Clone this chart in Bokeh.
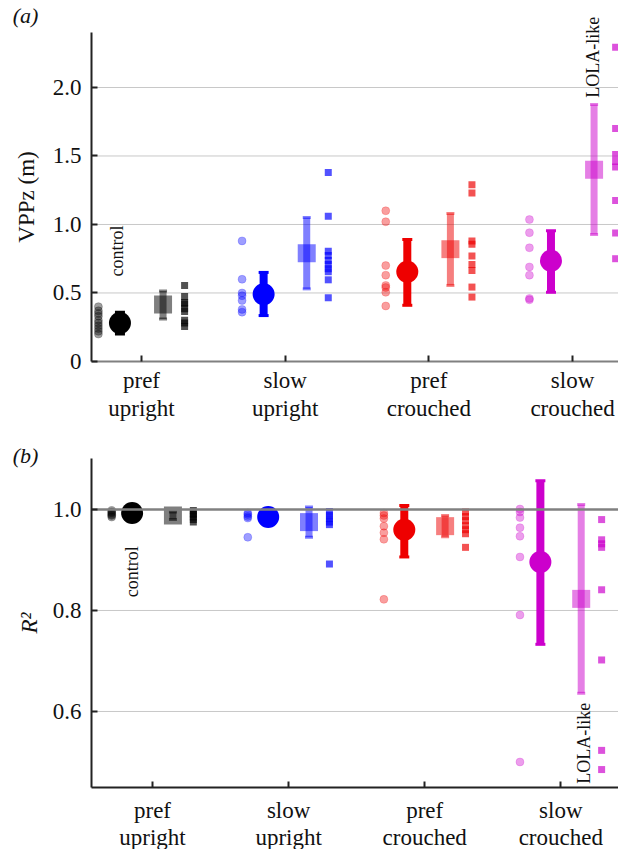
import math
from bokeh.plotting import figure
from bokeh.layouts import column
from bokeh.models import Range1d, FixedTicker, Label
from bokeh.core.properties import value
from bokeh.embed import file_html
from bokeh.resources import INLINE

# ---------------- data ----------------
categories = ["pref\nupright", "slow\nupright", "pref\ncrouched", "slow\ncrouched"]
cat_pos = [1, 2, 3, 4]
colors = ["#000000", "#0000ff", "#ee0000", "#cc00cc"]

# (a) VPPz (m)
vpp_ind_c = [
    [0.20, 0.22, 0.24, 0.26, 0.28, 0.30, 0.33, 0.35, 0.37, 0.40],
    [0.88, 0.60, 0.50, 0.48, 0.445, 0.38, 0.36],
    [1.10, 1.02, 0.70, 0.63, 0.555, 0.54, 0.505, 0.405],
    [1.036, 0.94, 0.83, 0.69, 0.63, 0.46, 0.45],
]
vpp_mean_c = [0.28, 0.49, 0.655, 0.735]
vpp_lo_c = [0.20, 0.335, 0.41, 0.505]
vpp_hi_c = [0.36, 0.65, 0.89, 0.955]
vpp_mean_s = [0.415, 0.79, 0.82, 1.40]
vpp_lo_s = [0.31, 0.53, 0.555, 0.927]
vpp_hi_s = [0.515, 1.05, 1.08, 1.876]
vpp_ind_s = [
    [0.555, 0.475, 0.43, 0.42, 0.385, 0.365, 0.30, 0.28, 0.255],
    [1.38, 1.06, 0.805, 0.774, 0.737, 0.708, 0.677, 0.655, 0.596, 0.465],
    [1.29, 1.23, 0.88, 0.855, 0.77, 0.708, 0.664, 0.543, 0.47],
    [2.294, 1.70, 1.51, 1.46, 1.42, 1.175, 0.937, 0.75],
]
vpp_ticks = [0, 0.5, 1.0, 1.5, 2.0]
vpp_tick_labels = ["0", "0.5", "1.0", "1.5", "2.0"]
vpp_grid = [0.5, 1.0, 1.5, 2.0]

# (b) R^2
r2_ind_c = [
    [0.998, 0.995, 0.993, 0.99, 0.988, 0.985],
    [0.993, 0.99, 0.986, 0.983, 0.945],
    [0.993, 0.988, 0.982, 0.967, 0.954, 0.941, 0.822],
    [1.001, 0.995, 0.984, 0.964, 0.947, 0.906, 0.791, 0.50],
]
r2_mean_c = [0.993, 0.985, 0.960, 0.896]
r2_lo_c = [0.985, 0.975, 0.906, 0.733]
r2_hi_c = [1.0, 0.993, 1.008, 1.057]
r2_mean_s = [0.988, 0.975, 0.967, 0.823]
r2_lo_s = [0.98, 0.945, 0.946, 0.636]
r2_hi_s = [0.995, 1.005, 0.988, 1.01]
r2_ind_s = [
    [0.998, 0.993, 0.99, 0.985, 0.98, 0.975],
    [0.996, 0.988, 0.982, 0.975, 0.970, 0.892],
    [0.995, 0.986, 0.978, 0.968, 0.960, 0.952, 0.925],
    [0.98, 0.94, 0.932, 0.925, 0.841, 0.702, 0.523, 0.485],
]
r2_ticks = [0.6, 0.8, 1.0]
r2_tick_labels = ["0.6", "0.8", "1.0"]
r2_grid = [0.6, 0.8]
r2_ref = [1.0]

SERIF = "'Liberation Serif', 'Times New Roman', Times, serif"
OFF_IND_C, OFF_MEAN_C, OFF_MEAN_S, OFF_IND_S = -0.3, -0.15, 0.15, 0.3
WIDTH = 618


def make_panel(ind_c, mean_c, lo_c, hi_c, mean_s, lo_s, hi_s, ind_s,
               xr, yr, x_axis_at, y_axis_at, y_top, yticks, ylabels, grid_vals,
               ylabel, label_italic, label_standoff, height, xaxis_color, cat_centers):
    p = figure(width=WIDTH, height=height, output_backend="svg", toolbar_location=None,
               x_range=Range1d(*xr), y_range=Range1d(*yr),
               min_border_left=0, min_border_right=0,
               min_border_top=0, min_border_bottom=0)
    p.outline_line_color = None
    p.background_fill_color = "white"
    p.border_fill_color = "white"
    p.xgrid.visible = False
    p.ygrid.visible = False
    ppu_x = WIDTH / (xr[1] - xr[0])
    ppu_y = height / (yr[1] - yr[0])

    # horizontal grid lines, from the y axis to the right edge
    n = len(grid_vals)
    p.segment([x_axis_at] * n, grid_vals, [xr[1]] * n, grid_vals,
              line_color="#c8c8c8", line_width=1)

    p.yaxis.fixed_location = x_axis_at
    p.xaxis.fixed_location = y_axis_at
    p.yaxis.bounds = (y_axis_at, y_top)
    p.xaxis.bounds = (x_axis_at, xr[1])
    p.yaxis.ticker = FixedTicker(ticks=yticks)
    p.xaxis.ticker = FixedTicker(ticks=cat_pos)
    for ax in (p.xaxis, p.yaxis):
        ax.minor_tick_line_color = None
        ax.major_tick_in = 6
        ax.major_tick_out = 0
        ax.major_tick_line_width = 2
        ax.major_tick_line_color = "#222222"
        ax.axis_line_width = 2
        ax.major_label_text_font_size = "23px"
        ax.major_label_text_color = None  # tick texts drawn below as serif text
    p.yaxis.axis_line_color = "#222222"
    p.xaxis.axis_line_color = xaxis_color
    p.yaxis.axis_label = ylabel
    p.yaxis.axis_label_text_font = SERIF
    p.yaxis.axis_label_text_font_size = "23px"
    p.yaxis.axis_label_text_font_style = "italic" if label_italic else "normal"
    p.yaxis.axis_label_text_color = "#111111"
    p.yaxis.axis_label_standoff = label_standoff

    # y tick labels
    p.text([x_axis_at - 10 / ppu_x] * len(yticks), yticks, text=ylabels,
           text_align="right", text_baseline="middle", text_font=value(SERIF),
           text_font_size="23px", text_color="#111111")
    # category labels (two lines)
    line1 = [c.split("\n")[0] for c in categories]
    line2 = [c.split("\n")[1] for c in categories]
    for lines, off in zip((line1, line2), cat_centers):
        p.text(cat_pos, [y_axis_at - off / ppu_y] * len(cat_pos), text=lines,
               text_align="center", text_baseline="middle", text_font=value(SERIF),
               text_font_size="23px", text_color="#111111")

    for i, pos in enumerate(cat_pos):
        col = colors[i]
        # individual trials (circles)
        p.scatter([pos + OFF_IND_C] * len(ind_c[i]), ind_c[i], marker="circle", size=8,
                  fill_color=col, fill_alpha=0.38, line_color=col, line_alpha=0.2)
        # mean +- sd (circle)
        xm = pos + OFF_MEAN_C
        p.segment([xm], [lo_c[i]], [xm], [hi_c[i]], line_color=col, line_width=8)
        p.rect([xm, xm], [lo_c[i], hi_c[i]], width=10, height=3,
               width_units="screen", height_units="screen", fill_color=col, line_color=None)
        p.scatter([xm], [mean_c[i]], marker="circle", size=22, fill_color=col, line_color=None)
        # mean +- sd (square)
        xs = pos + OFF_MEAN_S
        p.segment([xs], [lo_s[i]], [xs], [hi_s[i]], line_color=col, line_width=7, line_alpha=0.5)
        p.rect([xs, xs], [lo_s[i], hi_s[i]], width=8, height=3,
               width_units="screen", height_units="screen", fill_color=col, fill_alpha=0.5,
               line_color=None)
        p.scatter([xs], [mean_s[i]], marker="square", size=18, fill_color=col, fill_alpha=0.5,
                  line_color=None)
        # individual trials (squares)
        p.scatter([pos + OFF_IND_S] * len(ind_s[i]), ind_s[i], marker="square", size=7,
                  fill_color=col, fill_alpha=0.68, line_color=None)
    return p


top = make_panel(vpp_ind_c, vpp_mean_c, vpp_lo_c, vpp_hi_c, vpp_mean_s, vpp_lo_s, vpp_hi_s,
                 vpp_ind_s, (0.0186, 4.320), (-0.577, 2.635), 0.652, 0.0, 2.40,
                 vpp_ticks, vpp_tick_labels, vpp_grid,
                 "VPPz (m)", False, 53, 440, "#808080", (19, 47))
bot = make_panel(r2_ind_c, r2_mean_c, r2_lo_c, r2_hi_c, r2_mean_s, r2_lo_s, r2_hi_s,
                 r2_ind_s, (-0.117, 4.424), (0.3267, 1.1366), 0.552, 0.4495, 1.10,
                 r2_ticks, r2_tick_labels, r2_grid,
                 "R²", True, 50, 409, "#222222", (23, 50))

# reference line R^2 = 1
bot.segment([0.552], r2_ref, [4.424], r2_ref, line_color="#808080", line_width=2.5)


def add_text(p, x, y, text, size="18px", angle=0.0, align="left", style="normal"):
    p.add_layout(Label(x=x, y=y, text=text, angle=angle, text_align=align,
                       text_baseline="middle", text_font=SERIF, text_font_size=size,
                       text_font_style=style, text_color="#111111"))


add_text(top, 0.83, 0.62, "control", angle=math.pi / 2)
add_text(top, 4.14, 1.925, "LOLA-like", angle=math.pi / 2)
add_text(bot, 0.85, 0.826, "control", angle=math.pi / 2)
add_text(bot, 4.167, 0.457, "LOLA-like", angle=math.pi / 2)
add_text(top, 0.193, 2.526, "(a)", size="22px", align="center", style="italic")
add_text(bot, 0.067, 1.107, "(b)", size="22px", align="center", style="italic")

layout = column(top, bot, spacing=0)
open("out.html", "w").write(file_html(layout, INLINE))
